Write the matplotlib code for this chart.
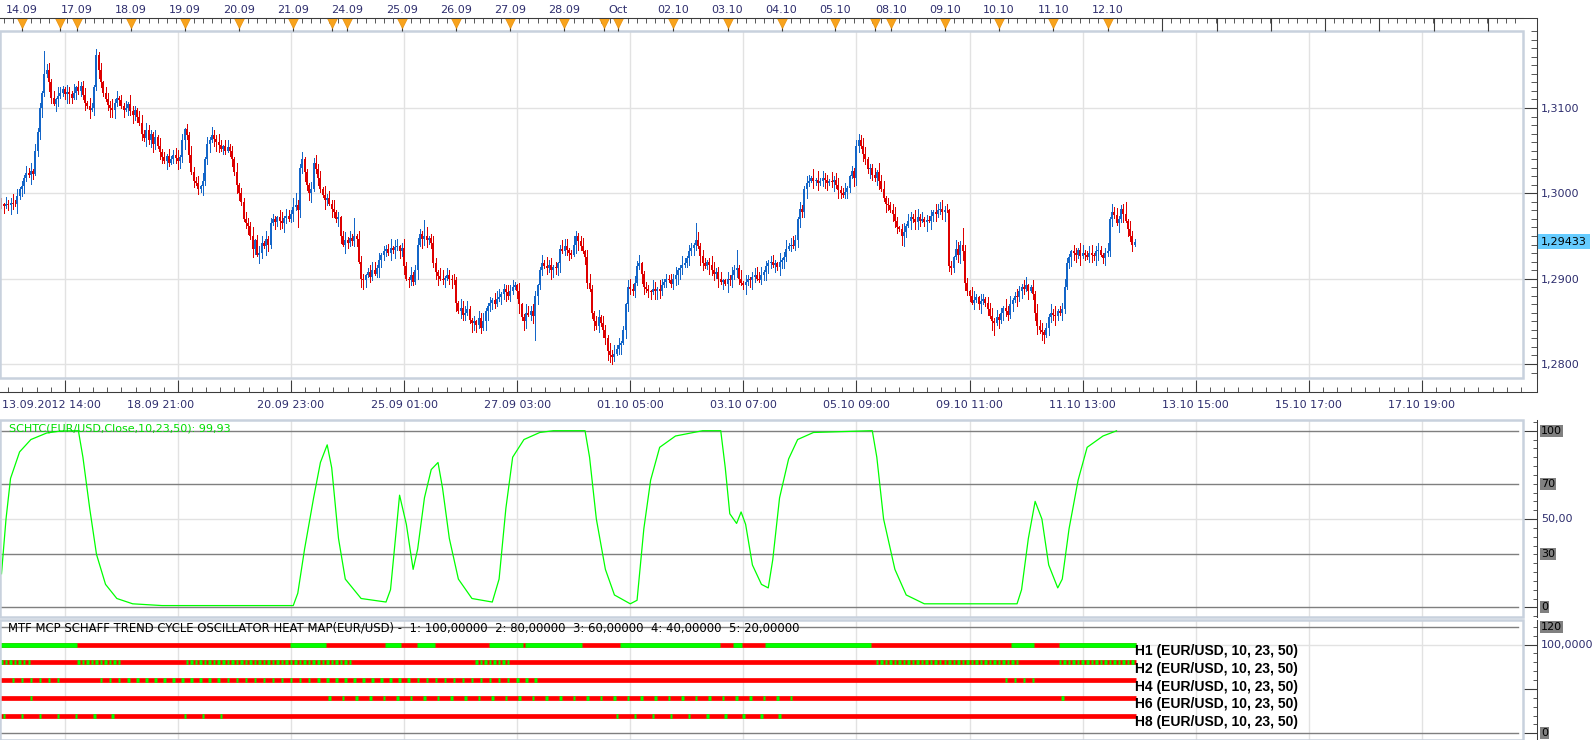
import numpy as np
import matplotlib.pyplot as plt
from matplotlib.lines import Line2D
from matplotlib.patches import Rectangle
from matplotlib.ticker import MultipleLocator, FixedLocator, NullFormatter, FuncFormatter

# ---------------- price data: hourly EUR/USD closes, pips above 1,2800 ----------------
CLOSE_PIPS = [
    187, 185, 188, 186, 189, 188, 187, 197, 205, 208,
    218, 224, 221, 226, 223, 250, 272, 300, 318, 340,
    345, 330, 312, 305, 310, 314, 318, 322, 316, 319,
    316, 312, 318, 324, 320, 326, 315, 306, 302, 298,
    300, 325, 362, 345, 330, 318, 310, 304, 300, 298,
    306, 312, 309, 302, 298, 300, 305, 296, 292, 298,
    290, 282, 270, 265, 274, 262, 270, 258, 266, 255,
    248, 242, 238, 244, 236, 240, 245, 241, 238, 243,
    262, 275, 268, 245, 225, 215, 212, 205, 208, 214,
    240, 258, 262, 268, 264, 260, 257, 252, 255, 250,
    254, 250, 240, 225, 210, 200, 190, 170, 165, 162,
    150, 135, 145, 128, 130, 142, 138, 146, 140, 165,
    170, 166, 172, 168, 165, 171, 174, 170, 176, 184,
    186, 180, 230, 240, 225, 210, 200, 205, 235, 228,
    218, 205, 198, 192, 195, 188, 182, 178, 170, 172,
    150, 140, 145, 142, 148, 144, 150, 146, 120, 100,
    98, 104, 108, 102, 110, 106, 112, 122, 128, 132,
    135, 130, 136, 134, 137, 138, 132, 136, 115, 100,
    98, 104, 96, 110, 140, 152, 146, 150, 145, 148,
    142, 118, 108, 103, 100, 98, 101, 104, 100, 99,
    98, 72, 62, 66, 58, 60, 64, 52, 48, 50,
    46, 54, 42, 50, 62, 68, 72, 75, 70, 76,
    78, 82, 88, 84, 80, 86, 90, 92, 85, 70,
    55, 50, 60, 58, 62, 56, 80, 92, 110, 118,
    115, 112, 116, 110, 114, 112, 118, 135, 132, 138,
    134, 130,
    128, 140, 150, 144, 138, 132, 125, 95,
    88, 60, 50, 45, 55, 48, 40, 30, 15, 10,
    8, 12, 18, 22, 25, 40, 70, 90, 88, 85,
    95, 115, 118, 105, 90, 88, 85, 84, 88, 86,
    88, 85, 92, 96, 100, 98, 94, 100, 104, 110,
    112, 116, 118, 124, 132, 136, 140, 145, 138, 126,
    118, 115, 120, 116, 110, 105, 108, 100, 96, 98,
    94, 100, 98, 104, 110, 112, 100, 95, 92, 96,
    100, 98, 102, 104, 100, 98, 104, 108, 115, 118,
    120, 116, 118, 114, 120, 122, 125, 135, 138, 140,
    138, 145, 170, 182, 178, 205, 212, 215, 218, 214,
    216, 212, 214, 218, 216, 212, 215, 213, 216, 210,
    204, 200, 198, 202, 206, 220, 226, 218, 255, 262,
    255, 246, 240, 228, 230, 222, 218, 225, 215, 205,
    195, 188, 186, 180, 176, 168, 160, 158, 150, 155,
    162, 168, 172, 170, 166, 172, 168, 170, 166, 169,
    168, 174, 178, 176, 180, 182, 178, 181, 180, 115,
    112, 125, 135, 128, 140, 132, 95, 85, 80, 72,
    75, 78, 70, 74, 76, 72, 64, 56, 50, 48,
    55, 52, 60, 66, 62, 58, 70, 75, 80, 78,
    85, 90, 88, 92, 86, 90, 82, 60, 45, 40,
    38, 34, 42, 55, 60, 58, 56, 62, 60, 64,
    90, 118, 125, 132, 130, 128, 134, 126, 130, 128,
    125, 130, 128, 126, 132, 134, 128, 124, 130, 132,
    170, 178, 175, 165, 170, 182, 176, 168, 158, 150,
    140, 143,
]
OPEN0_PIPS = 189
# wick lengths in 2-pip units, one character per bar
UPPER_WICK = [
    "31423 52413 24351 42315 34241 53214 32514 23415 31524 13425",
    "24132 41532 13524 32141 52314 23451 41325 32415 14253 25314",
    "42315 13243 25134 41523 32145 14325 53241 21435 34152 42513",
    "13524 24153 31245 52413 23514 41352 15234 32451 24315 51432",
    "32154 45213 14352 23145 51324 34215 12543 43125 25341 31254",
    "41253 23514 52134 14325 35241 21453 43512 32154 15423 24351",
    "25314 31452 43125 52341 14253 32514 21345 45132 34215 13524",
    "53142 24315 15243 31524 42351 13245 35412 24153 51324 42135",
    "14325 52413 23154 45231 31542 24315 52143 13452 42315 35124",
    "32451 14253 41325 25134 53214 31452 24513 42135 15342 23415",
    "32",
]
LOWER_WICK = [
    "24135 31524 42153 13452 25314 41235 53142 32415 14253 21354",
    "52314 14253 31425 24531 43152 12354 35241 41325 23514 54132",
    "13425 42135 25314 31542 14253 53124 21435 34512 42153 15324",
    "41532 23415 54132 12543 31425 24351 43215 15342 32451 24135",
    "25143 31254 42315 53421 14352 32145 25413 41523 13254 34512",
    "34215 52143 13524 24351 42135 15432 31254 23415 54213 12345",
    "53124 24315 41253 32514 15342 43125 24531 12354 31425 45213",
    "12453 35214 24135 41352 53124 21543 14325 32451 25314 43152",
    "31524 43125 15342 24513 32145 54231 41352 23154 15243 32415",
    "24315 13452 52143 35214 21354 42513 13425 51342 34215 25143",
    "41",
]
# long wicks, in pips
UPPER_SPIKES = {19: 27, 42: 7, 130: 14, 156: 21, 187: 19, 307: 20, 325: 22,
                379: 8, 425: 19, 497: 14}
LOWER_SPIKES = {114: 10, 131: 20, 236: 28, 269: 8, 399: 12, 420: 7, 439: 14, 461: 9}
LAST_PRICE = 1.29433

# ---------------- Schaff trend cycle ----------------
OSC_BAR = [0, 2, 4, 8, 13, 20, 26, 34, 36, 39, 42, 46, 51, 58, 71, 129, 131, 134, 138, 141,
           144, 146, 149, 152, 159, 170, 172, 175, 176, 179, 182, 184, 187, 190, 193, 195, 198,
           202, 208, 217, 220, 223, 226, 231, 238, 244, 258, 260, 263, 267, 271, 278, 281, 284,
           287, 291, 298, 310, 318, 320, 322, 325, 327, 329, 332, 336, 339, 341, 344, 348, 352,
           359, 385, 387, 390, 395, 400, 408, 449, 451, 454, 457, 460, 463, 467, 469, 472, 476,
           480, 487, 493]
OSC_VAL = [19, 50, 73, 88, 95, 98.7, 99.8, 100, 85, 56, 30, 13, 5, 2, 1, 1, 8, 33, 62, 82,
           92, 79, 39, 16, 5, 3, 10, 50, 63.5, 47, 21.5, 33, 62, 78, 82, 67.5, 39,
           16, 5, 3, 16, 56, 85, 95, 99, 100, 100, 85, 50, 21.5, 7, 2, 4, 44.5,
           72, 90.6, 97, 100, 100, 79, 53, 47.5, 54, 47, 24, 13, 11, 27, 62, 84, 95,
           99, 100, 85, 50, 21.5, 7, 2, 2, 10, 39, 60, 50, 24, 11, 16, 44.5, 72,
           90.6, 97, 99.93]
OSC_TITLE = "SCHTC(EUR/USD,Close,10,23,50): 99,93"
OSC_LEVELS = [0, 30, 70, 100]
OSC_LABELS = [("100", 100, True), ("70", 70, True), ("50,00", 50, False),
              ("30", 30, True), ("0", 0, True)]

# ---------------- heat map ----------------
HEAT_TITLE = ("MTF MCP SCHAFF TREND CYCLE OSCILLATOR HEAT MAP(EUR/USD) -  1: 100,00000  "
              "2: 80,00000  3: 60,00000  4: 40,00000  5: 20,00000")
HEAT_NAMES = ["H1 (EUR/USD, 10, 23, 50)", "H2 (EUR/USD, 10, 23, 50)", "H4 (EUR/USD, 10, 23, 50)",
              "H6 (EUR/USD, 10, 23, 50)", "H8 (EUR/USD, 10, 23, 50)"]
HEAT_LEVELS = [100, 80, 60, 40, 20]
HEAT_STEPS = [1, 2, 4, 6, 8]
HEAT_GREEN = [
    [(0, 33), (128, 143), (170, 176), (184, 191), (216, 230), (232, 256), (274, 317),
     (324, 327), (338, 384), (447, 456), (468, 501)],
    [(0, 13), (34, 53), (82, 155), (210, 225), (387, 449), (468, 500)],
    [(5, 25), (44, 238), (444, 457)],
    [(13, 13), (145, 349), (469, 469)],
    [(1, 49), (81, 97), (272, 345)],
]
HEAT_LABELS = [("120", 120, True), ("100,0000", 100, False), ("0", 0, True)]

# ---------------- time axes ----------------
DAY_TICKS = [9.1, 33.2, 57.1, 81.0, 105.0, 128.9, 152.8, 176.9, 201.0, 224.8, 248.7,
             272.6, 297.1, 321.0, 344.9, 368.7, 393.3, 417.2, 441.0, 465.0, 489.2]
DAY_LABELS = ["14.09", "17.09", "18.09", "19.09", "20.09", "21.09", "24.09", "25.09",
              "26.09", "27.09", "28.09", "Oct", "02.10", "03.10", "04.10", "05.10",
              "08.10", "09.10", "10.10", "11.10", "12.10"]
SESSION_TICKS = [25.9, 146.0, 266.2, 386.2]
FUTURE_DAY_TICKS = [513.2, 537.2, 561.2, 585.2, 609.2, 633.2, 657.2]
TIME_TICKS = [28, 78, 128, 178, 228, 278, 328, 378, 428, 478, 528, 578, 628]
TIME_LABELS = ["18.09 21:00", "20.09 23:00", "25.09 01:00", "27.09 03:00", "01.10 05:00",
               "03.10 07:00", "05.10 09:00", "09.10 11:00", "11.10 13:00", "13.10 15:00",
               "15.10 17:00", "17.10 19:00"]
FIRST_TIME_LABEL = "13.09.2012 14:00"

# ---------------- style ----------------
RED_C = "#dd0000"
BLUE_C = "#1466c8"
NAVY = "#2e2e6e"
GRID = "#e2e2e2"
BORDER = "#c8d1dd"
AXIS = "#3c3c3c"
LEVEL = "#7f7f7f"
W, H = 1594, 740
XLIM = (-0.66, 672.7)


def pt(px):
    return px * 0.72


def rect(x0, y0, x1, y1):
    return [x0 / W, 1 - y1 / H, (x1 - x0) / W, (y1 - y0) / H]


def wick(lines, n):
    s = "".join(lines).replace(" ", "")
    vals = [int(c, 36) * 2 for c in s][:n]
    vals += [4] * (n - len(vals))
    return np.array(vals, dtype=float)


fig = plt.figure(figsize=(W / 100, H / 100), dpi=100)
fig.patch.set_facecolor("white")

ax = fig.add_axes(rect(0, 31, 1523, 378))
ax_osc = fig.add_axes(rect(0, 420, 1523, 616.7))
ax_heat = fig.add_axes(rect(0, 620, 1523, 739.5))

# ================= price panel =================
n = len(CLOSE_PIPS)
xb = np.arange(n)
close = np.array(CLOSE_PIPS, dtype=float)
opn = np.r_[OPEN0_PIPS, close[:-1]]
uw = wick(UPPER_WICK, n)
lw = wick(LOWER_WICK, n)
for k, v in UPPER_SPIKES.items():
    uw[k] = v
for k, v in LOWER_SPIKES.items():
    lw[k] = v
top = np.maximum(opn, close)
bot = np.minimum(opn, close)
high = 1.28 + (top + uw) / 1e4
low = 1.28 + (bot - lw) / 1e4
cols = np.where(close >= opn, BLUE_C, RED_C)
ax.vlines(xb, low, high, colors=cols, lw=0.7, antialiased=False, zorder=3)
ax.vlines(xb, 1.28 + bot / 1e4, 1.28 + np.maximum(top, bot + 0.8) / 1e4, colors=cols,
          lw=1.3, antialiased=False, zorder=3)

ax.set_xlim(XLIM)
ax.set_ylim(1.27836, 1.31902)
for s in ["left", "top"]:
    ax.spines[s].set_visible(False)
for s in ["right", "bottom"]:
    ax.spines[s].set_position(("outward", pt(14)))
    ax.spines[s].set_color(AXIS)
    ax.spines[s].set_linewidth(0.75)
ax.yaxis.tick_right()
ax.yaxis.set_major_locator(MultipleLocator(0.01))
ax.yaxis.set_minor_locator(MultipleLocator(0.001))
ax.yaxis.set_major_formatter(FuncFormatter(lambda v, _: f"{v:.4f}".replace(".", ",")))
ax.tick_params(axis="y", which="major", direction="in", length=pt(14), color=AXIS,
               labelsize=8, labelcolor=NAVY, pad=pt(4))
ax.tick_params(axis="y", which="minor", direction="in", length=pt(6), color=AXIS)
ax.xaxis.set_major_locator(FixedLocator(TIME_TICKS))
ax.xaxis.set_minor_locator(FixedLocator(np.arange(3, 673, 6.25)))
ax.xaxis.set_major_formatter(NullFormatter())
ax.tick_params(axis="x", which="major", direction="in", length=pt(12), color=AXIS)
ax.tick_params(axis="x", which="minor", direction="in", length=pt(5), color=AXIS)
ax.grid(True, which="major", color=GRID, lw=1)
ax.set_axisbelow(True)

ax.annotate(FIRST_TIME_LABEL, xy=(0, 0), xycoords="axes fraction", xytext=(2, -26.6),
            textcoords="offset pixels", ha="left", va="center", fontsize=8, color=NAVY,
            annotation_clip=False)
for i, (t, lab) in enumerate(zip(TIME_TICKS[1:], TIME_LABELS)):
    dx = -17 if i == 0 else 0
    ax.annotate(lab, xy=(t, 0), xycoords=ax.get_xaxis_transform(), xytext=(dx, -26.6),
                textcoords="offset pixels", ha="center", va="center", fontsize=8,
                color=NAVY, annotation_clip=False)

ax.annotate(f"{LAST_PRICE:.5f}".replace(".", ","), xy=(1, LAST_PRICE),
            xycoords=ax.get_yaxis_transform(), xytext=(18, 0), textcoords="offset pixels",
            ha="left", va="center", fontsize=8, color="black", annotation_clip=False,
            bbox=dict(boxstyle="square,pad=0.25", fc="#66ccff", ec="none"))

# top date ruler
ax_top = ax.twiny()
ax_top.set_xlim(XLIM)
for s in ["left", "right", "bottom"]:
    ax_top.spines[s].set_visible(False)
ax_top.spines["top"].set_position(("outward", pt(13)))
ax_top.spines["top"].set_color(AXIS)
ax_top.spines["top"].set_linewidth(0.75)
ax_top.set_xticks(DAY_TICKS + SESSION_TICKS + FUTURE_DAY_TICKS,
                  DAY_LABELS + [""] * (len(SESSION_TICKS) + len(FUTURE_DAY_TICKS)))
ax_top.xaxis.set_minor_locator(FixedLocator(np.arange(1, 673, 4)))
ax_top.tick_params(axis="x", which="major", direction="in", length=pt(13.5), color=AXIS,
                   labelsize=8, labelcolor=NAVY, pad=pt(3))
ax_top.tick_params(axis="x", which="minor", direction="in", length=pt(5), color=AXIS)
tri = DAY_TICKS + SESSION_TICKS
ax_top.plot(tri, [1.0231] * len(tri), transform=ax_top.get_xaxis_transform(), ls="none",
            marker="v", ms=7.5, mfc="#f8a31c", mec="#e8900a", mew=0.5, clip_on=False, zorder=6)

# ================= oscillator panel =================
ax_osc.set_xlim(XLIM)
ax_osc.set_ylim(-5.3, 106.06)
ax_osc.set_xticks([])
for t in TIME_TICKS:
    ax_osc.axvline(t, color=GRID, lw=1, zorder=0)
ax_osc.axhline(50, color=GRID, lw=1, zorder=0)
for v in OSC_LEVELS:
    ax_osc.axhline(v, xmax=0.997, color=LEVEL, lw=1, zorder=1)
ax_osc.plot(OSC_BAR, OSC_VAL, color="#00ff00", lw=0.9, zorder=3)
ax_osc.annotate(OSC_TITLE, xy=(9, 188.7), xycoords="axes pixels", ha="left", va="center",
                fontsize=8, color="#00dd00", zorder=5)
for s in ["left", "top", "bottom"]:
    ax_osc.spines[s].set_visible(False)
ax_osc.spines["right"].set_position(("outward", pt(14)))
ax_osc.spines["right"].set_color(AXIS)
ax_osc.spines["right"].set_linewidth(0.75)
ax_osc.yaxis.tick_right()
ax_osc.yaxis.set_major_locator(FixedLocator([0, 50, 100]))
ax_osc.yaxis.set_minor_locator(MultipleLocator(5))
ax_osc.tick_params(axis="y", which="major", direction="in", length=pt(14), color=AXIS,
                   labelright=False)
ax_osc.tick_params(axis="y", which="minor", direction="in", length=pt(4), color=AXIS)
for txt, v, boxed in OSC_LABELS:
    ax_osc.annotate(txt, xy=(1, v), xycoords=ax_osc.get_yaxis_transform(), xytext=(18, 0),
                    textcoords="offset pixels", ha="left", va="center", fontsize=8,
                    color="black" if boxed else NAVY, annotation_clip=False,
                    bbox=dict(boxstyle="square,pad=0.1", fc="#808080", ec="none") if boxed else None)

# ================= heat map panel =================
ax_heat.set_xlim(XLIM)
ax_heat.set_ylim(-6.98, 127.6)
ax_heat.set_xticks([])
for t in TIME_TICKS:
    ax_heat.axvline(t, color=GRID, lw=1, zorder=0)
ax_heat.axhline(100, color=GRID, lw=1, zorder=0)
for v in (0, 120):
    ax_heat.axhline(v, xmax=0.997, color=LEVEL, lw=1, zorder=1)
for lvl, step, runs, name in zip(HEAT_LEVELS, HEAT_STEPS, HEAT_GREEN, HEAT_NAMES):
    ax_heat.hlines(lvl, -0.5, n - 0.5, color="#ff0000", lw=3.4, zorder=2)
    if step == 1:
        xs0 = [a - 0.5 for a, b in runs]
        xs1 = [b + 0.5 for a, b in runs]
    else:
        marks = [m for a, b in runs for m in range(a, b + 1, step)]
        xs0 = [m - 0.5 for m in marks]
        xs1 = [m + 0.6 for m in marks]
    ax_heat.hlines([lvl] * len(xs0), xs0, xs1, color="#00ff00", lw=3.4, zorder=3)
    ax_heat.annotate(name, xy=(n - 1, lvl), xytext=(0, -6.5), textcoords="offset pixels",
                     ha="left", va="center", fontsize=10, fontweight="bold",
                     family=["Liberation Sans", "DejaVu Sans"], color="black", zorder=5)
ax_heat.annotate(HEAT_TITLE, xy=(8, 111.5), xycoords="axes pixels", ha="left", va="center",
                 fontsize=8.4, color="black", zorder=5)
for s in ["left", "top", "bottom"]:
    ax_heat.spines[s].set_visible(False)
ax_heat.spines["right"].set_position(("outward", pt(14)))
ax_heat.spines["right"].set_color(AXIS)
ax_heat.spines["right"].set_linewidth(0.75)
ax_heat.yaxis.tick_right()
ax_heat.yaxis.set_major_locator(FixedLocator([0, 50, 100]))
ax_heat.yaxis.set_minor_locator(MultipleLocator(10))
ax_heat.tick_params(axis="y", which="major", direction="in", length=pt(14), color=AXIS,
                    labelright=False)
ax_heat.tick_params(axis="y", which="minor", direction="in", length=pt(4), color=AXIS)
for txt, v, boxed in HEAT_LABELS:
    ax_heat.annotate(txt, xy=(1, v), xycoords=ax_heat.get_yaxis_transform(), xytext=(18, 0),
                     textcoords="offset pixels", ha="left", va="center", fontsize=8,
                     color="black" if boxed else NAVY, annotation_clip=False,
                     bbox=dict(boxstyle="square,pad=0.1", fc="#808080", ec="none") if boxed else None)

# panel frames
for a in (ax, ax_osc, ax_heat):
    a.add_patch(Rectangle((0, 0), 1, 1, transform=a.transAxes, fill=False, ec=BORDER,
                          lw=1.8, clip_on=False, zorder=10))

# axis line extensions outside the panels
for xs, ys in [((1537, 1537), (18, 392)), ((0, 1537), (392, 392)), ((0, 1537), (18.3, 18.3))]:
    fig.add_artist(Line2D([x / W for x in xs], [1 - y / H for y in ys],
                          transform=fig.transFigure, color=AXIS, lw=0.75))

fig.savefig("out.png", dpi=100, facecolor="white")
